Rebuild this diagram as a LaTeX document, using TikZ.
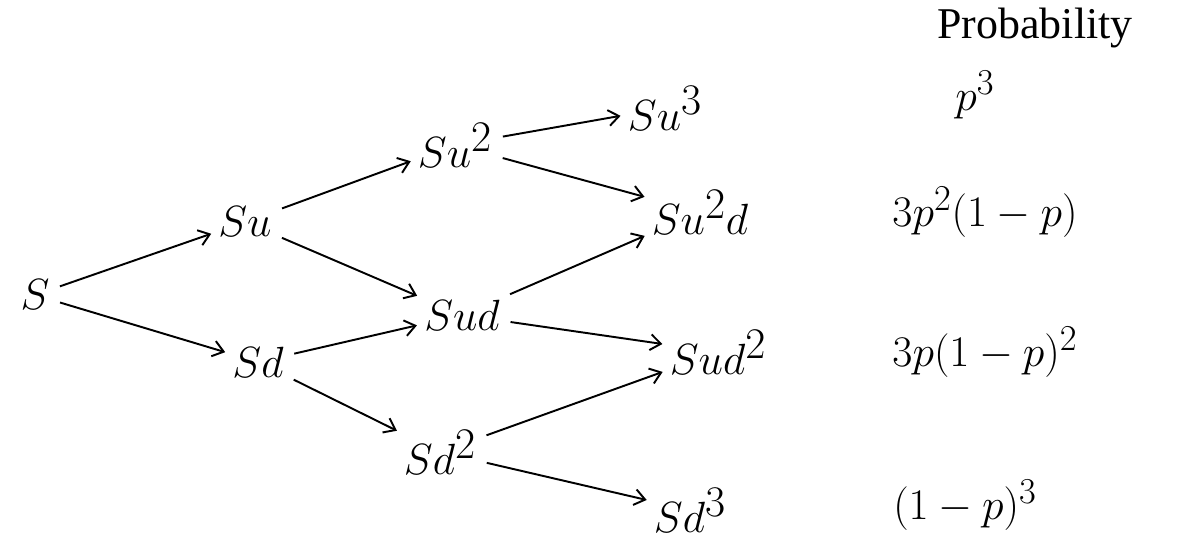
\documentclass[tikz,border=0pt]{standalone}
\usepackage{fontspec}
\setmainfont{Liberation Serif}
\usetikzlibrary{arrows.meta}
\begin{document}
\begin{tikzpicture}[x=0.02cm,y=-0.02cm,
  state/.style={inner sep=2pt,font=\fontsize{34}{36}\selectfont},
  prob/.style={inner sep=2pt,font=\fontsize{30}{32}\selectfont},
  edge/.style={line width=1.1pt,-{Straight Barb[length=6pt,width=9pt]},shorten <=4pt,shorten >=2pt}]
\useasboundingbox (0,0) rectangle (1197,542);
% lattice of prices
\node[state] (S)   at (35,295)  {$S$};
\node[state] (Su)  at (245,222) {$Su$};
\node[state] (Sd)  at (258,362) {$Sd$};
\node[state] (Suu) at (455,145) {$Su^2$};
\node[state] (Sud) at (462,315) {$Sud$};
\node[state] (Sdd) at (440,452) {$Sd^2$};
\node[state] (Su3) at (665,108) {$Su^3$};
\node[state] (Suud) at (700,212) {$Su^2d$};
\node[state] (Sudd) at (718,352) {$Sud^2$};
\node[state] (Sd3) at (690,510) {$Sd^3$};
% probabilities of the final nodes
\node[prob,font=\fontsize{25}{27}\selectfont] (ph) at (1035,28) {Probability};
\node[prob] (p3) at (975,95) {$p^3$};
\node[prob] (p2) at (985,212) {$3p^2(1-p)$};
\node[prob] (p1) at (985,352) {$3p(1-p)^2$};
\node[prob] (p0) at (965,505) {$(1-p)^3$};
% up and down moves
\draw[edge] (S) -- (Su);
\draw[edge] (S) -- (Sd);
\draw[edge] (Su) -- (Suu);
\draw[edge] (Su) -- (Sud);
\draw[edge] (Sd) -- (Sud);
\draw[edge] (Sd) -- (Sdd);
\draw[edge] (Suu) -- (Su3);
\draw[edge] (Suu) -- (Suud);
\draw[edge] (Sud) -- (Suud);
\draw[edge] (Sud) -- (Sudd);
\draw[edge] (Sdd) -- (Sudd);
\draw[edge] (Sdd) -- (Sd3);
\end{tikzpicture}
\end{document}
